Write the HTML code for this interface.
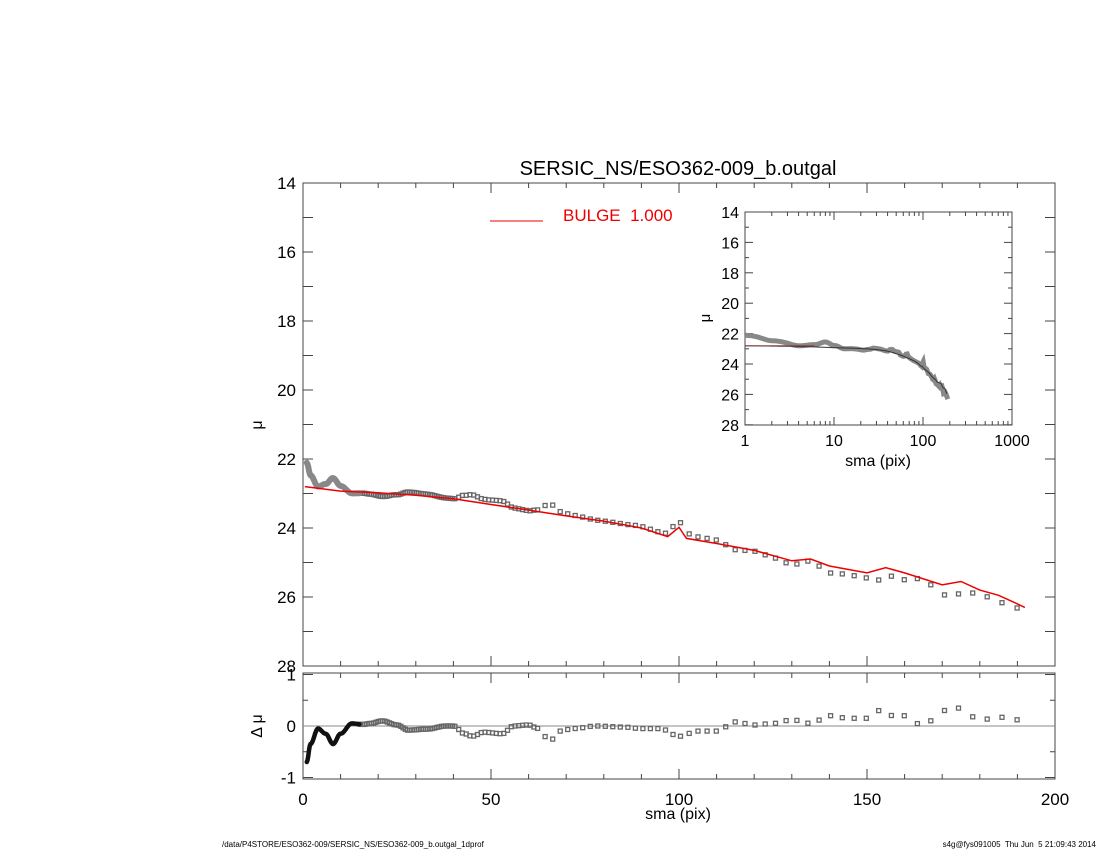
<!DOCTYPE html>
<html><head><meta charset="utf-8"><style>
html,body{margin:0;padding:0;background:#fff;}
svg{display:block;font-family:"Liberation Sans",sans-serif;}
</style></head><body>
<svg id="s" width="1100" height="850" xmlns="http://www.w3.org/2000/svg">
<rect width="1100" height="850" fill="#fff"/>
<text x="678" y="175" font-size="20" text-anchor="middle">SERSIC_NS/ESO362-009_b.outgal</text>
<line x1="490" y1="221" x2="543" y2="221" stroke="#e00" stroke-width="1"/>
<text x="563" y="221" font-size="17" fill="#e00" xml:space="preserve">BULGE  1.000</text>
<text x="678" y="819" font-size="16" text-anchor="middle">sma (pix)</text>
<text x="262" y="425" font-size="16" text-anchor="middle" transform="rotate(-90 262 425)">μ</text>
<text x="262" y="726" font-size="16" text-anchor="middle" transform="rotate(-90 262 726)">Δ μ</text>
<text x="878" y="466" font-size="16" text-anchor="middle">sma (pix)</text>
<text x="710" y="318" font-size="15" text-anchor="middle" transform="rotate(-90 710 318)">μ</text>
<text x="222" y="847" font-size="8">/data/P4STORE/ESO362-009/SERSIC_NS/ESO362-009_b.outgal_1dprof</text>
<text x="1096" y="847" font-size="8" text-anchor="end" xml:space="preserve">s4g@fys091005  Thu Jun  5 21:09:43 2014</text>
<g id="g"></g>
</svg>
<script>
var g=document.getElementById('g'),h='';
function L(a,b,c,d,col,w){h+='<line x1="'+a+'" y1="'+b+'" x2="'+c+'" y2="'+d+'" stroke="'+(col||'#000')+'" stroke-width="'+(w||1)+'"/>';}
function T(x,y,t,s,a){h+='<text x="'+x+'" y="'+y+'" font-size="'+s+'" text-anchor="'+(a||'middle')+'">'+t+'</text>';}
var X0=303,X1=1055,Y0=183,Y1=666,RY0=673,RY1=779;
function px(r){return X0+r*3.76;}
function py(m){return Y0+(m-14)*34.5;}
function ry(d){return 726-d*51.5;}
h+='<rect x="'+X0+'" y="'+Y0+'" width="'+(X1-X0)+'" height="'+(Y1-Y0)+'" fill="none" stroke="#444"/>';
h+='<rect x="'+X0+'" y="'+RY0+'" width="'+(X1-X0)+'" height="'+(RY1-RY0)+'" fill="none" stroke="#444"/>';
for(var m=14;m<=28;m++){var y=py(m);L(X0,y,X0+10,y,'#444');L(X1,y,X1-10,y,'#444');if(m%2==0)T(X0-7,y+6,m,17,'end');}
for(var r=0;r<=200;r+=10){var x=px(r),l=r%50==0?10:5;L(x,Y1,x,Y1-l,'#444');L(x,Y0,x,Y0+l,'#444');L(x,RY1,x,RY1-l,'#444');L(x,RY0,x,RY0+l,'#444');if(r%50==0)T(x,805,r,17);}
for(var d=-1;d<=1;d+=0.5){var y=ry(d);L(X0,y,X0+(d%1==0?10:5),y,'#444');L(X1,y,X1-(d%1==0?10:5),y,'#444');}
T(X0-7,ry(1)+6,'1',17,'end');T(X0-7,ry(0)+6,'0',17,'end');T(X0-7,ry(-1)+6,'-1',17,'end');
L(X0,726,X1,726,'#888');
function interp(k,r){if(r<=k[0][0])return k[0][1];for(var i=1;i<k.length;i++)if(r<=k[i][0]){var a=k[i-1],b=k[i];var t=(r-a[0])/(b[0]-a[0]);return a[1]+(b[1]-a[1])*t;}return k[k.length-1][1];}
function cint(k,r){if(r<=k[0][0])return k[0][1];for(var i=1;i<k.length;i++)if(r<=k[i][0]){var a=k[i-1],b=k[i];var t=(r-a[0])/(b[0]-a[0]);t=(1-Math.cos(Math.PI*t))/2;return a[1]+(b[1]-a[1])*t;}return k[k.length-1][1];}
var MK=[[0.5,22.8],[10,22.93],[20,22.98],[30,23.05],[40,23.15],[50,23.32],[60,23.48],[70,23.65],[80,23.8],[90,24.0],[97,24.25],[100,23.98],[102,24.3],[110,24.45],[120,24.65],[130,24.95],[135,24.9],[140,25.1],[150,25.3],[155,25.15],[160,25.3],[170,25.65],[175,25.55],[180,25.8],[185,25.95],[190,26.2],[192,26.3]];
var RK=[[1,-0.7],[2,-0.35],[4,-0.05],[6,-0.15],[8,-0.35],[10,-0.15],[13,0.05],[16,0.03],[18,0.05],[21,0.1],[25,0.02],[28,-0.08],[33,-0.06],[38,0],[40,0],[43,-0.15],[45,-0.2],[48,-0.12],[53,-0.15],[56,0],[60,0.02],[62,-0.03],[64,-0.2],[66,-0.27],[68,-0.1],[72,-0.05],[78,0],[85,-0.02],[90,-0.05],[95,-0.05],[100,-0.2],[105,-0.1],[110,-0.1],[115,0.08],[120,0.02],[125,0.05],[130,0.12],[135,0.05],[140,0.2],[145,0.15],[150,0.15],[153,0.3],[157,0.2],[160,0.2],[165,0.0],[170,0.3],[175,0.35],[180,0.1],[185,0.2],[188,0.05],[192,0.2]];
var rs=[],r=1;while(r<=192.5){rs.push(r);r=r<15?r+0.2:(r<40?r+0.6:(r<62?r+1:(r<100?r+2:r*1.02+0.3)));}
var p1='',p2='';
rs.forEach(function(r){var d=cint(RK,r),m=interp(MK,r)+d;
 if(r<15){p1+=(p1?'L':'M')+px(r).toFixed(1)+' '+py(m).toFixed(1);p2+=(p2?'L':'M')+px(r).toFixed(1)+' '+ry(d).toFixed(1);}
 else{h+='<rect x="'+(px(r)-2).toFixed(1)+'" y="'+(py(m)-2).toFixed(1)+'" width="4" height="4" fill="none" stroke="#666" stroke-width="1.3"/>';
      h+='<rect x="'+(px(r)-2).toFixed(1)+'" y="'+(ry(d)-2).toFixed(1)+'" width="4" height="4" fill="none" stroke="#666" stroke-width="1.3"/>';}
});
h+='<path d="'+p1+'" fill="none" stroke="#888" stroke-width="6" stroke-linecap="round"/>';
h+='<path d="'+p2+'" fill="none" stroke="#111" stroke-width="4.5" stroke-linecap="round"/>';
var pmk='';MK.forEach(function(k){pmk+=(pmk?'L':'M')+px(k[0]).toFixed(1)+' '+py(k[1]).toFixed(1);});
h+='<path d="'+pmk+'" fill="none" stroke="#e00" stroke-width="1.5"/>';
var IX0=745,IX1=1012,IY0=212,IY1=425;
function ix(r){return IX0+Math.log10(r)*89;}
function iy(m){return IY0+(m-14)*15.2;}
h+='<rect x="'+IX0+'" y="'+IY0+'" width="'+(IX1-IX0)+'" height="'+(IY1-IY0)+'" fill="#fff" stroke="#444"/>';
for(var m=14;m<=28;m++){var y=iy(m);L(IX0,y,IX0+(m%2?4:8),y,'#444');L(IX1,y,IX1-(m%2?4:8),y,'#444');if(m%2==0)T(IX0-6,y+6,m,16,'end');}
for(var dcd=0;dcd<3;dcd++)for(var k=1;k<=10;k++){var x=ix(Math.pow(10,dcd)*k),l=k==10||k==1?8:4;L(x,IY1,x,IY1-l,'#444');L(x,IY0,x,IY0+l,'#444');}
[1,10,100,1000].forEach(function(v){T(ix(v),446,v,16);});
var q='';rs.forEach(function(r){var m=interp(MK,r)+cint(RK,r);q+=(q?'L':'M')+ix(r).toFixed(1)+' '+iy(m).toFixed(1);});
h+='<path d="'+q+'" fill="none" stroke="#888" stroke-width="5"/>';
var qm='';for(var r=1;r<=192;r*=1.05){qm+=(qm?'L':'M')+ix(r).toFixed(1)+' '+iy(interp(MK,r)).toFixed(1);}
h+='<path d="'+qm+'" fill="none" stroke="#333" stroke-width="1"/>';
L(IX0,iy(22.8),ix(6),iy(22.8),'#844',1);
g.innerHTML=h;
</script>
</body></html>
